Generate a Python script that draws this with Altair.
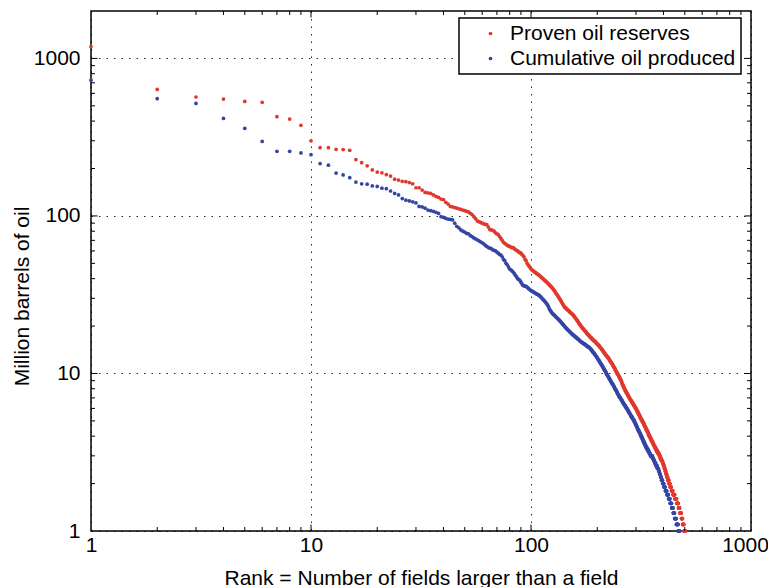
import altair as alt
import pandas as pd

# ---------------- data ----------------
series_names = ["Proven oil reserves", "Cumulative oil produced"]
series_colors = ["#e1382d", "#3445a5"]

# Proven oil reserves, one value per rank (rank = position + 1)
red_values = [
    1190, 635, 569, 552, 533, 526, 427, 412, 376, 300,
    271, 271, 265, 264, 261, 228, 218, 208, 196, 190,
    188, 183, 179, 171, 169, 166, 165, 163, 160, 151,
    151, 146, 141, 140, 139, 136, 133, 131, 128, 127,
    122, 119, 115, 114, 113, 112, 111, 110, 109, 108,
    107, 106, 104, 102, 99, 96, 93, 92, 91, 90,
    89, 88.5, 88, 85, 82, 81.5, 81, 80, 78, 77,
    76, 74, 72, 70, 68, 67, 66, 65, 64.5, 64,
    63.5, 63, 63, 62, 61, 60.5, 60, 59, 58.5, 58,
    57, 56, 55, 53, 52, 50, 49, 48, 47, 46,
    45.5, 45, 44.5, 44, 43.6, 43.2, 42.8, 42.4, 42, 41.5,
    41, 40.6, 40.1, 39.7, 39.2, 38.8, 38.4, 38, 37.5, 37.1,
    36.6, 36.2, 35.8, 35.3, 34.9, 34.5, 33.9, 33.4, 32.9, 32.3,
    31.8, 31.3, 30.8, 30.3, 29.8, 29.3, 28.8, 28.3, 27.8, 27.3,
    26.9, 26.4, 26.2, 26.0, 25.7, 25.5, 25.3, 25.1, 24.9, 24.6,
    24.4, 24.2, 24.0, 23.8, 23.6, 23.4, 23.1, 22.8, 22.5, 22.3,
    22.0, 21.7, 21.5, 21.2, 20.9, 20.7, 20.4, 20.2, 19.9, 19.7,
    19.5, 19.3, 19.2, 19.0, 18.8, 18.6, 18.5, 18.3, 18.1, 17.9,
    17.8, 17.6, 17.5, 17.3, 17.2, 17.0, 16.9, 16.8, 16.7, 16.5,
    16.4, 16.3, 16.2, 16.1, 16.0, 15.9, 15.8, 15.6, 15.5, 15.4,
    15.3, 15.2, 15.1, 15.0, 14.8, 14.7, 14.6, 14.5, 14.3, 14.2,
    14.1, 14.0, 13.8, 13.7, 13.6, 13.4, 13.3, 13.2, 13.1, 13.0,
    12.9, 12.8, 12.7, 12.6, 12.5, 12.4, 12.3, 12.1, 12.0, 11.9,
    11.8, 11.7, 11.6, 11.5, 11.4, 11.2, 11.1, 11.0, 10.9, 10.8,
    10.7, 10.5, 10.4, 10.3, 10.2, 10.1, 10.0, 9.9, 9.8, 9.7,
    9.6, 9.5, 9.4, 9.3, 9.2, 9.1, 9.0, 8.9, 8.7, 8.6,
    8.5, 8.4, 8.3, 8.2, 8.1, 8.0, 7.9, 7.8, 7.8, 7.7,
    7.6, 7.5, 7.5, 7.4, 7.3, 7.3, 7.2, 7.1, 7.1, 7.0,
    6.9, 6.9, 6.8, 6.8, 6.7, 6.7, 6.6, 6.6, 6.5, 6.5,
    6.4, 6.4, 6.3, 6.3, 6.2, 6.2, 6.1, 6.1, 6.0, 6.0,
    5.9, 5.9, 5.8, 5.8, 5.7, 5.7, 5.6, 5.6, 5.5, 5.5,
    5.4, 5.4, 5.3, 5.3, 5.2, 5.2, 5.1, 5.1, 5.1, 5.0,
    5.0, 4.9, 4.9, 4.9, 4.8, 4.8, 4.7, 4.7, 4.6, 4.6,
    4.6, 4.5, 4.5, 4.4, 4.4, 4.4, 4.3, 4.3, 4.3, 4.2,
    4.2, 4.1, 4.1, 4.1, 4.0, 4.0, 4.0, 3.9, 3.9, 3.9,
    3.8, 3.8, 3.8, 3.7, 3.7, 3.7, 3.7, 3.6, 3.6, 3.6,
    3.5, 3.5, 3.5, 3.5, 3.4, 3.4, 3.4, 3.4,
]
# small fields: reported size and how many fields share it
red_tail_levels = [3.3, 3.2, 3.1, 3.0, 2.9, 2.8, 2.7, 2.6, 2.5, 2.4, 2.3, 2.2,
                   2.1, 2.0, 1.9, 1.8, 1.7, 1.6, 1.5, 1.4, 1.3, 1.2, 1.1, 1.0]
red_tail_counts = [4, 5, 5, 4, 4, 5, 4, 4, 3, 4, 4, 4,
                   5, 5, 6, 7, 9, 9, 8, 7, 8, 6, 7, 8]

# Cumulative oil produced, one value per rank
blue_values = [
    728, 555, 518, 416, 360, 297, 257, 257, 251, 245,
    215, 210, 187, 182, 175, 164, 160, 159, 155, 154,
    150, 149, 144, 139, 136, 129, 126, 124.5, 123, 121,
    115, 114, 112, 109, 108, 107, 105.5, 104, 99, 98,
    96.5, 95.5, 95, 94.5, 90, 86, 84, 81.5, 80, 79,
    77.5, 77, 75, 74, 72.5, 71.5, 70.5, 69.5, 68.5, 67.5,
    66.5, 65, 64, 63, 62.5, 62, 61, 60.5, 60, 59,
    58, 57, 56.5, 55, 53, 52, 50, 49, 47.5, 46,
    45.5, 44.8, 44, 43, 42, 41, 40, 39.5, 39, 38,
    37, 36.2, 36, 35.8, 35.7, 35.3, 34.8, 34.4, 34, 33.6,
    33.3, 33.1, 32.8, 32.5, 32.3, 32.0, 31.8, 31.5, 31.3, 30.9,
    30.5, 30.1, 29.7, 29.3, 28.9, 28.5, 28.1, 27.7, 27.2, 26.6,
    25.8, 25.3, 24.9, 24.5, 24.1, 23.8, 23.6, 23.3, 23.1, 22.8,
    22.6, 22.4, 22.1, 21.9, 21.7, 21.4, 21.2, 20.9, 20.7, 20.4,
    20.2, 20.0, 19.7, 19.5, 19.3, 19.1, 18.9, 18.8, 18.6, 18.4,
    18.3, 18.1, 17.9, 17.8, 17.6, 17.5, 17.4, 17.2, 17.1, 17.0,
    16.9, 16.7, 16.6, 16.5, 16.4, 16.2, 16.1, 16.0, 15.9, 15.8,
    15.7, 15.6, 15.5, 15.4, 15.4, 15.3, 15.2, 15.1, 15.0, 14.9,
    14.8, 14.8, 14.7, 14.6, 14.5, 14.4, 14.3, 14.1, 14.0, 13.9,
    13.7, 13.6, 13.5, 13.4, 13.2, 13.1, 13.0, 12.8, 12.7, 12.6,
    12.4, 12.3, 12.2, 12.0, 11.9, 11.8, 11.6, 11.5, 11.4, 11.3,
    11.1, 11.0, 10.9, 10.8, 10.6, 10.5, 10.4, 10.3, 10.2, 10.0,
    9.9, 9.8, 9.7, 9.6, 9.5, 9.4, 9.3, 9.2, 9.1, 9.0,
    8.9, 8.8, 8.7, 8.6, 8.6, 8.5, 8.4, 8.3, 8.2, 8.1,
    8.0, 7.9, 7.9, 7.8, 7.7, 7.6, 7.5, 7.4, 7.4, 7.3,
    7.2, 7.1, 7.1, 7.0, 7.0, 6.9, 6.8, 6.8, 6.7, 6.7,
    6.6, 6.5, 6.5, 6.4, 6.4, 6.3, 6.3, 6.2, 6.2, 6.1,
    6.1, 6.0, 6.0, 5.9, 5.9, 5.8, 5.8, 5.7, 5.7, 5.6,
    5.6, 5.5, 5.5, 5.4, 5.4, 5.3, 5.3, 5.3, 5.2, 5.2,
    5.1, 5.1, 5.1, 5.0, 5.0, 4.9, 4.9, 4.8, 4.8, 4.7,
    4.7, 4.6, 4.6, 4.5, 4.5, 4.4, 4.4, 4.4, 4.3, 4.3,
    4.2, 4.2, 4.2, 4.1, 4.1, 4.0, 4.0, 4.0, 3.9, 3.9,
    3.9, 3.8, 3.8, 3.7, 3.7, 3.7, 3.6, 3.6, 3.6, 3.5,
    3.5, 3.5, 3.4, 3.4, 3.4, 3.4, 3.3, 3.3, 3.3, 3.3,
    3.2, 3.2, 3.2, 3.2, 3.1, 3.1, 3.1, 3.1,
]
blue_tail_levels = [3.0, 2.9, 2.8, 2.7, 2.6, 2.5, 2.4, 2.3, 2.2, 2.1, 2.0,
                    1.9, 1.8, 1.7, 1.6, 1.5, 1.4, 1.3, 1.2, 1.1, 1.0]
blue_tail_counts = [8, 4, 4, 5, 5, 5, 4, 4, 4, 5, 5,
                    6, 7, 7, 7, 7, 7, 7, 8, 9, 8]

# axis ticks
x_label_values = [1, 10, 100, 1000]
y_label_values = [1, 10, 100, 1000]
x_major_ticks = [10, 100]
y_major_ticks = [10, 100, 1000]
minor_ticks = [2, 3, 4, 5, 6, 7, 8, 9,
               20, 30, 40, 50, 60, 70, 80, 90,
               200, 300, 400, 500, 600, 700, 800, 900]

x_title = "Rank = Number of fields larger than a field"
y_title = "Million barrels of oil"

# ---------------- build table ----------------
def expand(values, levels, counts):
    out = list(values)
    for lv, c in zip(levels, counts):
        out.extend([lv] * c)
    return out

all_series = [expand(red_values, red_tail_levels, red_tail_counts),
              expand(blue_values, blue_tail_levels, blue_tail_counts)]
rows = []
for name, vals in zip(series_names, all_series):
    for i, v in enumerate(vals):
        rows.append({"rank": i + 1, "value": v, "series": name})
df = pd.DataFrame(rows)

W, H = 660, 520
FONT = "Liberation Sans, Arial, Helvetica, sans-serif"
xscale = alt.Scale(type="log", domain=[1, 1000], nice=False)
yscale = alt.Scale(type="log", domain=[1, 2000], nice=False)

x_axis = alt.Axis(values=x_label_values, format="d", title=x_title,
                  labelBaseline="alphabetic", labelPadding=20,
                  labelOffset=alt.ExprRef("datum.value >= 1000 ? -6 : 0"),
                  titleBaseline="alphabetic", titleY=53)
y_axis = alt.Axis(values=y_label_values, format="d", title=y_title,
                  labelPadding=11, titleBaseline="alphabetic",
                  titleX=-63, titleY=285, titleAlign="center")

points = alt.Chart(df).mark_circle(size=14, opacity=1).encode(
    x=alt.X("rank:Q", scale=xscale, axis=x_axis),
    y=alt.Y("value:Q", scale=yscale, axis=y_axis),
    color=alt.Color("series:N",
                    scale=alt.Scale(domain=series_names, range=series_colors),
                    legend=alt.Legend(title=None, orient="none", legendX=368, legendY=7,
                                      strokeColor="black", fillColor="white", padding=5,
                                      labelFontSize=21, labelFont=FONT, labelColor="black",
                                      labelLimit=400, symbolType="circle", symbolSize=14,
                                      symbolOffset=16, labelOffset=9, rowPadding=3,
                                      symbolStrokeWidth=0)),
)


def xtick_layer(vals, length, top):
    d = pd.DataFrame({"t": vals})
    if top:
        ys = dict(y=alt.value(0), y2=alt.value(length))
    else:
        ys = dict(y=alt.value(H), y2=alt.value(H - length))
    return alt.Chart(d).mark_rule(color="black", strokeWidth=1).encode(
        x=alt.X("t:Q", scale=xscale, axis=x_axis), **ys)


def ytick_layer(vals, length, right):
    d = pd.DataFrame({"t": vals})
    if right:
        xs = dict(x=alt.value(W), x2=alt.value(W - length))
    else:
        xs = dict(x=alt.value(0), x2=alt.value(length))
    return alt.Chart(d).mark_rule(color="black", strokeWidth=1).encode(
        y=alt.Y("t:Q", scale=yscale, axis=y_axis), **xs)


MAJ, MIN = 6.5, 4
layers = [points,
          xtick_layer(x_major_ticks, MAJ, False), xtick_layer(x_major_ticks, MAJ, True),
          xtick_layer(minor_ticks, MIN, False), xtick_layer(minor_ticks, MIN, True),
          ytick_layer(y_major_ticks, MAJ, False), ytick_layer(y_major_ticks, MAJ, True),
          ytick_layer(minor_ticks, MIN, False), ytick_layer(minor_ticks, MIN, True)]

chart = alt.layer(*layers).properties(
    width=W, height=H,
    padding={"left": 83, "top": 3, "right": 17, "bottom": 56},
    autosize=alt.AutoSizeParams(type="none"),
).configure_view(
    stroke="black", strokeWidth=1.5
).configure_axis(
    domain=False, ticks=False, tickSize=0,
    labelFont=FONT, labelFontSize=21, labelColor="black",
    labelFlush=False, labelOverlap=False,
    titleFont=FONT, titleFontSize=21, titleFontWeight="normal", titleColor="black",
    grid=True, gridColor="black", gridDash=[1.5, 6], gridWidth=1, gridOpacity=0.85,
).configure_legend(
    strokeWidth=1.5
)

chart.save("out.html", embed_options={"renderer": "svg", "actions": False})
